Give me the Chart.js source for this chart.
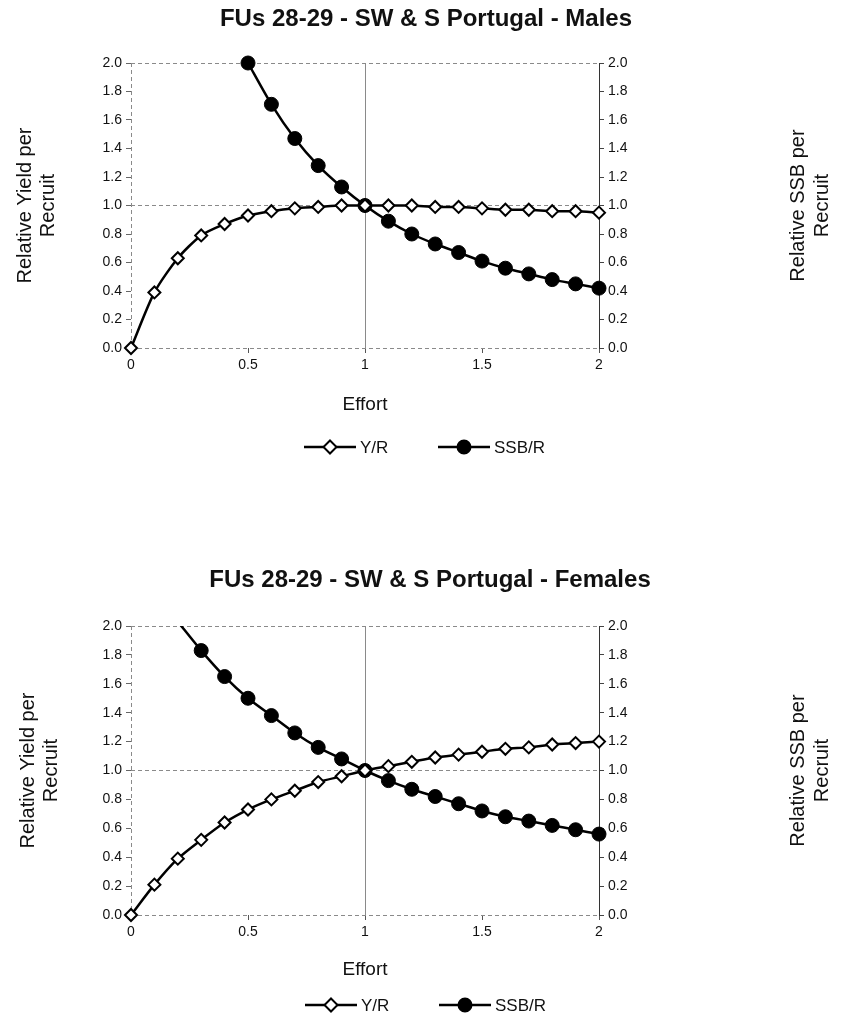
<!DOCTYPE html>
<html>
<head>
<meta charset="utf-8">
<script src="https://cdn.jsdelivr.net/npm/chart.js@4/dist/chart.umd.min.js"></script>
<style>
  body { margin: 0; background: #fff; }
  canvas { position: absolute; left: 0; }
</style>
</head>
<body>
<canvas id="males" width="845" height="470" style="top:0px"></canvas>
<canvas id="females" width="845" height="486" style="top:540px"></canvas>
<script>
// --- Dados ---
const effort = [0, 0.1, 0.2, 0.3, 0.4, 0.5, 0.6, 0.7, 0.8, 0.9, 1.0,
                1.1, 1.2, 1.3, 1.4, 1.5, 1.6, 1.7, 1.8, 1.9, 2.0];

const yrMales  = [0, 0.39, 0.63, 0.79, 0.87, 0.93, 0.96, 0.98, 0.99, 1.00, 1.00,
                  1.00, 1.00, 0.99, 0.99, 0.98, 0.97, 0.97, 0.96, 0.96, 0.95];
const ssbMales = [null, null, null, null, null, 2.00, 1.71, 1.47, 1.28, 1.13, 1.00,
                  0.89, 0.80, 0.73, 0.67, 0.61, 0.56, 0.52, 0.48, 0.45, 0.42];

const yrFemales  = [0, 0.21, 0.39, 0.52, 0.64, 0.73, 0.80, 0.86, 0.92, 0.96, 1.00,
                    1.03, 1.06, 1.09, 1.11, 1.13, 1.15, 1.16, 1.18, 1.19, 1.20];
const ssbFemales = [null, null, 2.03, 1.83, 1.65, 1.50, 1.38, 1.26, 1.16, 1.08, 1.00,
                    0.93, 0.87, 0.82, 0.77, 0.72, 0.68, 0.65, 0.62, 0.59, 0.56];

const seriesNames = ['Y/R', 'SSB/R'];
const xTitle = 'Effort';
const yLeftTitle = ['Relative Yield per', 'Recruit'];
const yRightTitle = ['Relative SSB per', 'Recruit'];

const FONT = '"Liberation Sans", Arial, sans-serif';
const W = 845;

function pares(valores) {
    return effort.map((x, i) => ({ x: x, y: valores[i] }));
}

// Desenha títulos, rótulos dos eixos e legenda
function decor(cfg) {
    return {
        id: 'decor',
        afterDraw(chart) {
            const ctx = chart.ctx;
            const a = chart.chartArea;
            const midY = (a.top + a.bottom) / 2;
            ctx.save();
            ctx.fillStyle = '#111';
            ctx.textAlign = 'center';
            ctx.textBaseline = 'middle';

            ctx.font = 'bold 24px ' + FONT;
            ctx.fillText(cfg.title, cfg.titleX, cfg.titleY);

            ctx.font = '19px ' + FONT;
            ctx.fillText(xTitle, (a.left + a.right) / 2, a.bottom + cfg.effortDy);

            ctx.font = '20px ' + FONT;
            [[yLeftTitle, cfg.leftX], [yRightTitle, cfg.rightX]].forEach(([linhas, xs]) => {
                linhas.forEach((t, i) => {
                    ctx.save();
                    ctx.translate(xs[i], midY);
                    ctx.rotate(-Math.PI / 2);
                    ctx.fillText(t, 0, 0);
                    ctx.restore();
                });
            });

            // legenda
            const ly = a.bottom + cfg.legendDy;
            ctx.font = '17px ' + FONT;
            ctx.textAlign = 'left';
            chart.data.datasets.forEach((ds, i) => {
                const cx = cfg.legendX[i];
                ctx.strokeStyle = '#000';
                ctx.lineWidth = 2.5;
                ctx.beginPath();
                ctx.moveTo(cx - 26, ly);
                ctx.lineTo(cx + 26, ly);
                ctx.stroke();
                ctx.lineWidth = 2;
                ctx.beginPath();
                if (ds.pointStyle === 'rectRot') {
                    const r = 6.5;
                    ctx.moveTo(cx, ly - r); ctx.lineTo(cx + r, ly);
                    ctx.lineTo(cx, ly + r); ctx.lineTo(cx - r, ly);
                    ctx.closePath();
                    ctx.fillStyle = '#fff';
                } else {
                    ctx.arc(cx, ly, 6.5, 0, Math.PI * 2);
                    ctx.fillStyle = '#000';
                }
                ctx.fill();
                ctx.stroke();
                ctx.fillStyle = '#111';
                ctx.fillText(ds.label, cx + 30, ly + 1);
            });
            ctx.restore();
        }
    };
}

function criarGrafico(id, cfg, yr, ssb) {
    const linhaGrade = v => (v === 0 || v === 1 || v === 2) ? '#8a8a8a' : 'rgba(0,0,0,0)';
    return new Chart(document.getElementById(id), {
        type: 'line',
        data: {
            datasets: [{
                label: seriesNames[0],
                data: pares(yr),
                borderColor: '#000',
                borderWidth: 2.5,
                pointStyle: 'rectRot',
                pointRadius: 6,
                pointBorderWidth: 2,
                pointBackgroundColor: '#fff',
                pointBorderColor: '#000',
                tension: 0.25,
                clip: { left: 10, right: 10, top: cfg.clipTop, bottom: 10 }
            }, {
                label: seriesNames[1],
                data: pares(ssb),
                borderColor: '#000',
                borderWidth: 2.5,
                pointStyle: 'circle',
                pointRadius: c => (c.raw && c.raw.y > 2) ? 0 : 7,
                pointBorderWidth: 1,
                pointBackgroundColor: '#000',
                pointBorderColor: '#000',
                tension: 0.25,
                clip: { left: 10, right: 10, top: cfg.clipTop, bottom: 10 }
            }]
        },
        options: {
            responsive: false,
            animation: false,
            events: [],
            layout: { padding: { left: 0, right: 0, top: cfg.top, bottom: cfg.bottomPad } },
            plugins: { legend: { display: false }, title: { display: false }, tooltip: { enabled: false } },
            scales: {
                x: {
                    type: 'linear', min: 0, max: 2,
                    ticks: { stepSize: 0.5, color: '#111', padding: 4, font: { family: FONT, size: 14 },
                             callback: v => String(v) },
                    grid: { color: c => c.tick && (c.tick.value === 0 || c.tick.value === 1) ? '#8a8a8a' : 'rgba(0,0,0,0)',
                            tickColor: '#555', tickLength: 5 },
                    border: { display: false, dash: c => (c.tick && c.tick.value === 1) ? [] : [4, 3] },
                    afterFit: s => { s.height = 30; }
                },
                y: {
                    position: 'left', min: 0, max: 2,
                    ticks: { stepSize: 0.2, color: '#111', padding: 4, font: { family: FONT, size: 14 },
                             callback: v => v.toFixed(1) },
                    grid: { color: c => linhaGrade(c.tick ? Math.round(c.tick.value * 10) / 10 : -1),
                            tickColor: '#666', tickLength: 5 },
                    border: { display: false, dash: [4, 3] },
                    afterFit: s => { s.width = cfg.left; }
                },
                y2: {
                    position: 'right', min: 0, max: 2,
                    ticks: { stepSize: 0.2, color: '#111', padding: 4, font: { family: FONT, size: 14 },
                             callback: v => v.toFixed(1) },
                    grid: { drawOnChartArea: false, tickColor: '#444', tickLength: 5 },
                    border: { display: true, color: '#333', width: 1 },
                    afterFit: s => { s.width = W - cfg.right; }
                }
            }
        },
        plugins: [decor(cfg)]
    });
}

criarGrafico('males', {
    title: 'FUs 28-29 - SW & S Portugal - Males',
    titleX: 426, titleY: 19,
    top: 63, bottomPad: 470 - 348 - 30, left: 131, right: 599,
    leftX: [25, 48], rightX: [798, 822],
    effortDy: 57, legendDy: 99,
    legendX: [330, 464],
    clipTop: 8
}, yrMales, ssbMales);

criarGrafico('females', {
    title: 'FUs 28-29 - SW & S Portugal - Females',
    titleX: 430, titleY: 40,
    top: 86, bottomPad: 486 - 375 - 30, left: 131, right: 599,
    leftX: [28, 51], rightX: [798, 822],
    effortDy: 55, legendDy: 90,
    legendX: [331, 465],
    clipTop: 0
}, yrFemales, ssbFemales);
</script>
</body>
</html>
